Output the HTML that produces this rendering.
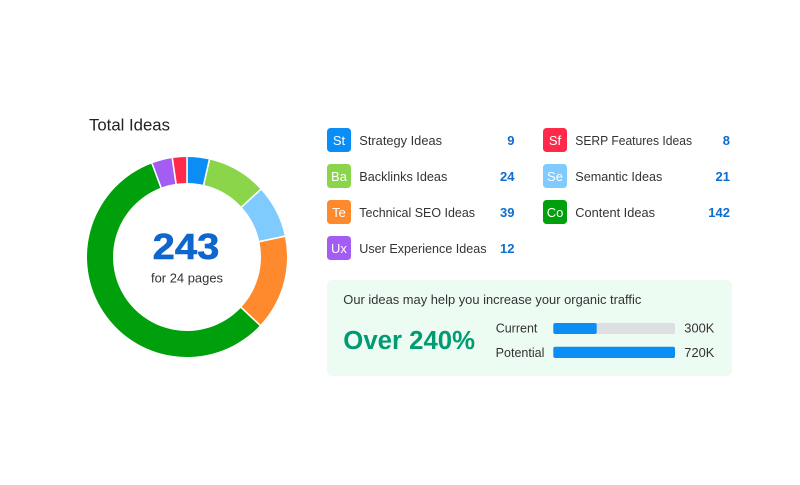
<!DOCTYPE html>
<html>
<head>
<meta charset="utf-8">
<style>
html,body{margin:0;padding:0;background:#fff;}
body{width:800px;height:485px;overflow:hidden;}
svg{display:block;}
text{font-family:"Liberation Sans",Arial,sans-serif;}
</style>
</head>
<body>
<svg width="800" height="485" viewBox="0 0 800 485" xmlns="http://www.w3.org/2000/svg">
  <rect x="0" y="0" width="800" height="485" fill="#ffffff"/>

  <!-- Title -->
  <text x="89" y="130.5" font-size="16.4" fill="#222" textLength="81" lengthAdjust="spacingAndGlyphs">Total Ideas</text>

  <!-- Donut -->
  <path d="M187,157 A100,100 0 0 1 209.50,159.56 L203.65,184.89 A74,74 0 0 0 187,183 Z" fill="#0a8ef6"/>
  <path d="M209.50,159.56 A100,100 0 0 1 260.73,189.44 L241.56,207.01 A74,74 0 0 0 203.65,184.89 Z" fill="#8bd54b"/>
  <path d="M260.73,189.44 A100,100 0 0 1 284.81,236.21 L259.38,241.62 A74,74 0 0 0 241.56,207.01 Z" fill="#80cbfd"/>
  <path d="M284.81,236.21 A100,100 0 0 1 260.14,325.20 L241.12,307.47 A74,74 0 0 0 259.38,241.62 Z" fill="#ff8a2e"/>
  <path d="M260.14,325.20 A100,100 0 1 1 151.98,163.33 L161.09,187.68 A74,74 0 1 0 241.12,307.47 Z" fill="#009f0c"/>
  <path d="M151.98,163.33 A100,100 0 0 1 172.22,158.10 L176.06,183.81 A74,74 0 0 0 161.09,187.68 Z" fill="#a45df2"/>
  <path d="M172.22,158.10 A100,100 0 0 1 187,157 L187,183 A74,74 0 0 0 176.06,183.81 Z" fill="#ff2a4a"/>
  <g stroke="#ffffff" stroke-width="1.6">
    <line x1="187" y1="184" x2="187" y2="155"/>
    <line x1="203.4" y1="185.9" x2="209.9" y2="157.6"/>
    <line x1="240.8" y1="207.7" x2="262.1" y2="188.1"/>
    <line x1="258.4" y1="241.8" x2="286.8" y2="235.8"/>
    <line x1="240.4" y1="306.8" x2="261.5" y2="326.6"/>
    <line x1="161.4" y1="188.6" x2="151.2" y2="161.4"/>
    <line x1="176.2" y1="184.8" x2="172" y2="156.1"/>
  </g>

  <text x="152.7" y="259" font-size="36" font-weight="bold" fill="#0f66cc" stroke="#0f66cc" stroke-width="0.6" textLength="66.6" lengthAdjust="spacingAndGlyphs">243</text>
  <text x="151" y="282.5" font-size="13" fill="#333" textLength="72" lengthAdjust="spacingAndGlyphs">for 24 pages</text>

  <!-- Legend column 1 -->
  <rect x="327" y="128" width="24" height="24" rx="3.5" fill="#0a8ef6"/>
  <text x="339" y="145" font-size="13" fill="#fff" text-anchor="middle">St</text>
  <text x="359.3" y="145" font-size="13" fill="#333" textLength="82.7" lengthAdjust="spacingAndGlyphs">Strategy Ideas</text>
  <text x="514.5" y="145" font-size="13" font-weight="bold" fill="#0d6dd0" text-anchor="end">9</text>

  <rect x="327" y="164" width="24" height="24" rx="3.5" fill="#8bd54b"/>
  <text x="339" y="181" font-size="13" fill="#fff" text-anchor="middle">Ba</text>
  <text x="359.3" y="181" font-size="13" fill="#333" textLength="88" lengthAdjust="spacingAndGlyphs">Backlinks Ideas</text>
  <text x="514.5" y="181" font-size="13" font-weight="bold" fill="#0d6dd0" text-anchor="end">24</text>

  <rect x="327" y="200" width="24" height="24" rx="3.5" fill="#ff8a2e"/>
  <text x="339" y="217" font-size="13" fill="#fff" text-anchor="middle">Te</text>
  <text x="359.3" y="217" font-size="13" fill="#333" textLength="115.7" lengthAdjust="spacingAndGlyphs">Technical SEO Ideas</text>
  <text x="514.5" y="217" font-size="13" font-weight="bold" fill="#0d6dd0" text-anchor="end">39</text>

  <rect x="327" y="236" width="24" height="24" rx="3.5" fill="#a45df2"/>
  <text x="339" y="253" font-size="13" fill="#fff" text-anchor="middle">Ux</text>
  <text x="359.3" y="253" font-size="13" fill="#333" textLength="127.3" lengthAdjust="spacingAndGlyphs">User Experience Ideas</text>
  <text x="514.5" y="253" font-size="13" font-weight="bold" fill="#0d6dd0" text-anchor="end">12</text>

  <!-- Legend column 2 -->
  <rect x="543" y="128" width="24" height="24" rx="3.5" fill="#ff2a4a"/>
  <text x="555" y="145" font-size="13" fill="#fff" text-anchor="middle">Sf</text>
  <text x="575.3" y="145" font-size="13" fill="#333" textLength="116.7" lengthAdjust="spacingAndGlyphs">SERP Features Ideas</text>
  <text x="730" y="145" font-size="13" font-weight="bold" fill="#0d6dd0" text-anchor="end">8</text>

  <rect x="543" y="164" width="24" height="24" rx="3.5" fill="#80cbfd"/>
  <text x="555" y="181" font-size="13" fill="#fff" text-anchor="middle">Se</text>
  <text x="575.3" y="181" font-size="13" fill="#333" textLength="87" lengthAdjust="spacingAndGlyphs">Semantic Ideas</text>
  <text x="730" y="181" font-size="13" font-weight="bold" fill="#0d6dd0" text-anchor="end">21</text>

  <rect x="543" y="200" width="24" height="24" rx="3.5" fill="#009f0c"/>
  <text x="555" y="217" font-size="13" fill="#fff" text-anchor="middle">Co</text>
  <text x="575.3" y="217" font-size="13" fill="#333" textLength="79.7" lengthAdjust="spacingAndGlyphs">Content Ideas</text>
  <text x="730" y="217" font-size="13" font-weight="bold" fill="#0d6dd0" text-anchor="end">142</text>

  <!-- Traffic box -->
  <rect x="327" y="280" width="405" height="96" rx="5" fill="#edfcf3"/>
  <text x="343.3" y="304" font-size="13" fill="#333" textLength="298" lengthAdjust="spacingAndGlyphs">Our ideas may help you increase your organic traffic</text>
  <text x="343.3" y="349" font-size="25.5" font-weight="bold" fill="#009b72" textLength="131.7" lengthAdjust="spacingAndGlyphs">Over 240%</text>

  <text x="495.7" y="332.3" font-size="12.5" fill="#333" textLength="41.7" lengthAdjust="spacingAndGlyphs">Current</text>
  <rect x="553.3" y="323" width="121.7" height="11" rx="2" fill="#dedfe3"/>
  <rect x="553.3" y="323" width="43.4" height="11" rx="2" fill="#0a8ef6"/>
  <text x="684.3" y="332.3" font-size="12.5" fill="#333" textLength="30" lengthAdjust="spacingAndGlyphs">300K</text>

  <text x="495.7" y="357" font-size="12.5" fill="#333" textLength="48.7" lengthAdjust="spacingAndGlyphs">Potential</text>
  <rect x="553.3" y="346.7" width="121.7" height="11.3" rx="2" fill="#0a8ef6"/>
  <text x="684.3" y="357" font-size="12.5" fill="#333" textLength="30" lengthAdjust="spacingAndGlyphs">720K</text>
</svg>
</body>
</html>
